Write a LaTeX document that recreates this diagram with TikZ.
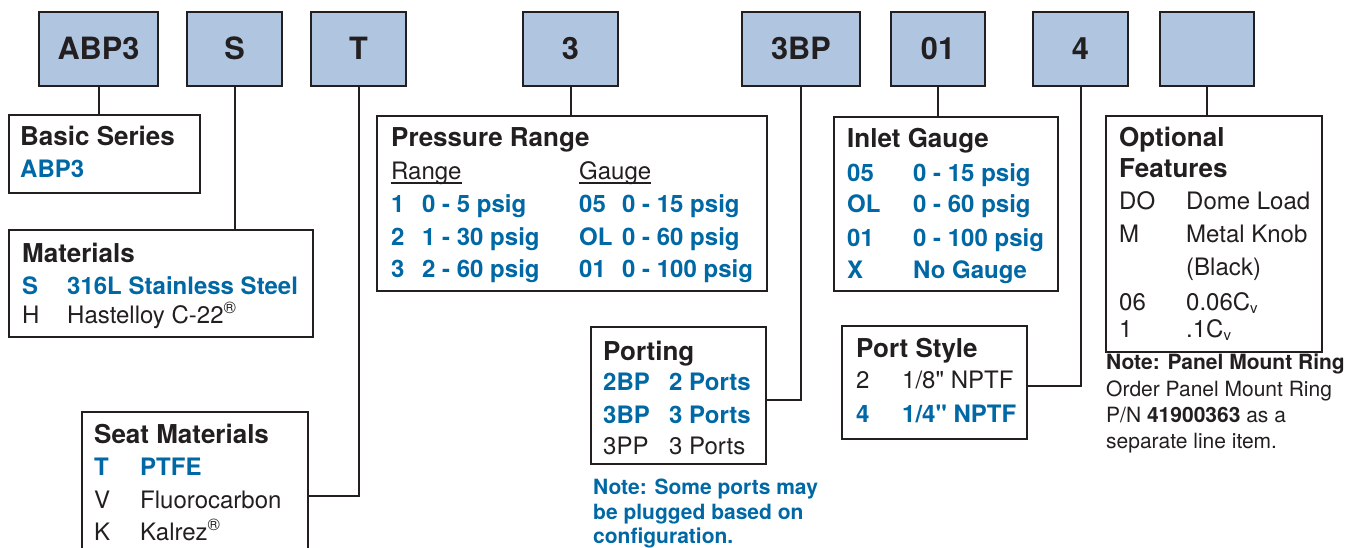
\documentclass[tikz,border=0pt]{standalone}
\usepackage{fontspec}
\setmainfont{TeX Gyre Heros}[Ligatures=TeXOff]
\usetikzlibrary{fit}
\definecolor{boxblue}{RGB}{176,197,224}
\definecolor{blueT}{RGB}{0,104,165}
\definecolor{edge}{RGB}{35,31,32}
\newcommand{\cvsub}{\raisebox{-3.5pt}{\fontsize{15}{15}\selectfont v}}
\tikzset{
  code/.style={fill=boxblue, draw=edge, line width=2.7pt, inner sep=0pt},
  codetxt/.style={inner sep=0pt, font=\fontsize{30.7}{36}\selectfont\bfseries, text=edge},
  panel/.style={draw=edge, line width=2.5pt, inner sep=0pt},
  ttl/.style={anchor=base west, inner sep=0pt, font=\fontsize{26}{30}\selectfont\bfseries, text=edge},
  txt/.style={anchor=base west, inner sep=0pt, font=\fontsize{24}{28}\selectfont, text=edge},
  btxt/.style={anchor=base west, inner sep=0pt, font=\fontsize{24}{28}\selectfont\bfseries, text=blueT},
  notebl/.style={anchor=base west, inner sep=0pt, font=\fontsize{21}{25}\selectfont\bfseries, text=blueT},
  notebk/.style={anchor=base west, inner sep=0pt, font=\fontsize{21}{25}\selectfont\bfseries, text=edge},
  notetx/.style={anchor=base west, inner sep=0pt, font=\fontsize{21}{25}\selectfont, text=edge},
  link/.style={draw=edge, line width=2pt},
  uline/.style={draw=edge, line width=1.4pt},
}
\begin{document}
\begin{tikzpicture}[x=1pt,y=-1pt]
\useasboundingbox (0,0) rectangle (1357,548);
\clip (0,0) rectangle (1357,548);
\fill[white] (0,0) rectangle (1357,548);

% code boxes
\node[code, fit={(39,12)(158,86)}] (c1) {};
\node[code, fit={(187,12)(282,86)}] (c2) {};
\node[code, fit={(311,12)(406,86)}] (c3) {};
\node[code, fit={(523,12)(618,86)}] (c4) {};
\node[code, fit={(742,12)(860,86)}] (c5) {};
\node[code, fit={(891,12)(985,86)}] (c6) {};
\node[code, fit={(1033,12)(1128,86)}] (c7) {};
\node[code, fit={(1160,12)(1254,86)}] (c8) {};
\node[codetxt, anchor=base] (c1-t) at ([yshift=-11pt]c1.center) {ABP3};
\node[codetxt, anchor=base] (c2-t) at ([yshift=-11pt]c2.center) {S};
\node[codetxt, anchor=base] (c3-t) at ([yshift=-11pt]c3.center) {T};
\node[codetxt, anchor=base] (c4-t) at ([yshift=-11pt]c4.center) {3};
\node[codetxt, anchor=base] (c5-t) at ([yshift=-11pt]c5.center) {3BP};
\node[codetxt, anchor=base] (c6-t) at ([yshift=-11pt]c6.center) {01};
\node[codetxt, anchor=base] (c7-t) at ([yshift=-11pt]c7.center) {4};

% panels
\node[panel, fit={(9,115)(200,193)}] (basic) {};
\node[panel, fit={(9,230)(313,337)}] (mat) {};
\node[panel, fit={(82,412)(308,580)}] (seat) {};
\node[panel, fit={(377,116)(767,291)}] (press) {};
\node[panel, fit={(591,327)(766,464)}] (port) {};
\node[panel, fit={(834,117)(1058,291)}] (inlet) {};
\node[panel, fit={(842,326)(1027,439)}] (pstyle) {};
\node[panel, fit={(1106,116)(1322,352)}] (opt) {};

% connectors
\draw[link] (c1.south) -- (c1.south |- basic.north);
\draw[link] (c2.south) -- (c2.south |- mat.north);
\draw[link] (c3.south) |- (seat.east);
\draw[link] (c4.south) -- (c4.south |- press.north);
\draw[link] (c5.south) |- ([yshift=-4.5pt]port.east);
\draw[link] (c6.south) -- (c6.south |- inlet.north);
\draw[link] (c7.south) |- ([yshift=-3.5pt]pstyle.east);
\draw[link] (c8.south) -- (c8.south |- opt.north);

% Basic Series
\node[ttl] (bs-t) at (20,146) {Basic Series};
\node[btxt] (bs-a) at (20,178) {ABP3};

% Materials
\node[ttl] (ma-t) at (22,262) {Materials};
\node[btxt] (ma-s) at (22,294) {S};
\node[btxt] (ma-sv) at (67,294) {316L Stainless Steel};
\node[txt] (ma-h) at (22,323) {H};
\node[txt] (ma-hv) at (67,323) {Hastelloy C-22\textsuperscript{®}};

% Seat Materials
\node[ttl] (se-t) at (94,443) {Seat Materials};
\node[btxt] (se-1) at (94,475) {T};
\node[btxt] (se-1v) at (140,475) {PTFE};
\node[txt] (se-2) at (94,508) {V};
\node[txt] (se-2v) at (140,508) {Fluorocarbon};
\node[txt] (se-3) at (94,540) {K};
\node[txt] (se-3v) at (140,540) {Kalrez\textsuperscript{®}};

% Pressure Range
\node[ttl] (pr-t) at (391,147) {Pressure Range};
\node[txt] (pr-r) at (391,180) {Range};
\node[txt] (pr-g) at (579,180) {Gauge};
\draw[uline] ([yshift=-3pt]pr-r.base west) -- ([yshift=-3pt]pr-r.base east);
\draw[uline] ([yshift=-3pt]pr-g.base west) -- ([yshift=-3pt]pr-g.base east);
\node[btxt] (pr-1) at (391,212) {1};
\node[btxt] (pr-1v) at (422,212) {0 - 5 psig};
\node[btxt] (pr-2) at (391,245) {2};
\node[btxt] (pr-2v) at (422,245) {1 - 30 psig};
\node[btxt] (pr-3) at (391,277) {3};
\node[btxt] (pr-3v) at (422,277) {2 - 60 psig};
\node[btxt] (pg-1) at (579,212) {05};
\node[btxt] (pg-1v) at (622,212) {0 - 15 psig};
\node[btxt] (pg-2) at (579,245) {OL};
\node[btxt] (pg-2v) at (622,245) {0 - 60 psig};
\node[btxt] (pg-3) at (579,277) {01};
\node[btxt] (pg-3v) at (622,277) {0 - 100 psig};

% Inlet Gauge
\node[ttl] (ig-t) at (847,148) {Inlet Gauge};
\node[btxt] (ig-1) at (847,182) {05};
\node[btxt] (ig-1v) at (913,182) {0 - 15 psig};
\node[btxt] (ig-2) at (847,213) {OL};
\node[btxt] (ig-2v) at (913,213) {0 - 60 psig};
\node[btxt] (ig-3) at (847,246) {01};
\node[btxt] (ig-3v) at (913,246) {0 - 100 psig};
\node[btxt] (ig-4) at (847,278) {X};
\node[btxt] (ig-4v) at (913,278) {No Gauge};

% Port Style
\node[ttl] (ps-t) at (856,357) {Port Style};
\node[txt] (ps-1) at (856,388) {2};
\node[txt] (ps-1v) at (902,388) {1/8" NPTF};
\node[btxt] (ps-2) at (856,422) {4};
\node[btxt] (ps-2v) at (902,422) {1/4" NPTF};

% Porting
\node[ttl] (po-t) at (603,360) {Porting};
\node[btxt] (po-1) at (603,390) {2BP};
\node[btxt] (po-1v) at (669,390) {2 Ports};
\node[btxt] (po-2) at (603,423) {3BP};
\node[btxt] (po-2v) at (669,423) {3 Ports};
\node[txt] (po-3) at (603,454) {3PP};
\node[txt] (po-3v) at (669,454) {3 Ports};
\node[notebl] (pn-1) at (593,494) {Note: Some ports may};
\node[notebl] (pn-2) at (593,519) {be plugged based on};
\node[notebl] (pn-3) at (593,543) {configuration.};

% Optional Features
\node[ttl] (of-t1) at (1119,147) {Optional};
\node[ttl] (of-t2) at (1119,178) {Features};
\node[txt] (of-1) at (1119,210) {DO};
\node[txt] (of-1v) at (1186,210) {Dome Load};
\node[txt] (of-2) at (1119,243) {M};
\node[txt] (of-2v) at (1186,243) {Metal Knob};
\node[txt] (of-2w) at (1186,275) {(Black)};
\node[txt] (of-3) at (1119,310) {06};
\node[txt] (of-3v) at (1186,310) {0.06C\cvsub};
\node[txt] (of-4) at (1119,337) {1};
\node[txt] (of-4v) at (1186,337) {.1C\cvsub};
\node[notebk] (on-1) at (1106,369) {Note: Panel Mount Ring};
\node[notetx] (on-2) at (1106,396) {Order Panel Mount Ring};
\node[notetx] (on-3) at (1106,422) {P/N \textbf{41900363} as a};
\node[notetx] (on-4) at (1106,448) {separate line item.};
\end{tikzpicture}
\end{document}
